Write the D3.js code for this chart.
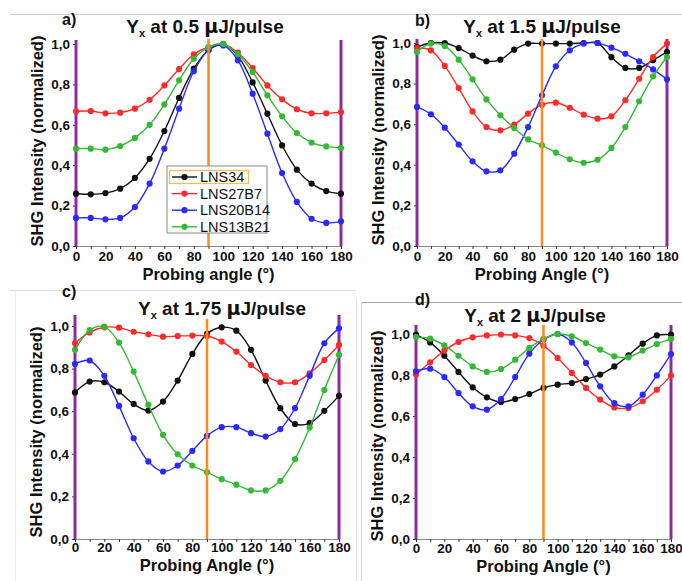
<!DOCTYPE html>
<html><head><meta charset="utf-8">
<script src="https://cdn.jsdelivr.net/npm/d3@7/dist/d3.min.js"></script>
<style>
html,body{margin:0;padding:0;background:#fff;}
svg{display:block;font-family:"Liberation Sans",Arial,sans-serif;}
</style></head>
<body>
<svg id="chart" width="682" height="581"></svg>
<script>
// ---- data ----
const angles = [0,10,20,30,40,50,60,70,80,90,100,110,120,130,140,150,160,170,180];
const seriesNames = ["LNS34","LNS27B7","LNS20B14","LNS13B21"];
const seriesColors = ["#111111","#ff2a2a","#2a2aff","#35b935"];
const xTickLabels = [0,20,40,60,80,100,120,140,160,180];
const yTickLabels = ["0,0","0,2","0,4","0,6","0,8","1,0"];

const panelA_LNS34   = [0.259,0.256,0.262,0.284,0.337,0.432,0.569,0.733,0.878,0.970,1.000,0.940,0.810,0.655,0.498,0.378,0.309,0.272,0.259];
const panelA_LNS27B7 = [0.667,0.668,0.657,0.660,0.680,0.724,0.795,0.876,0.949,0.985,1.000,0.957,0.881,0.795,0.726,0.677,0.657,0.657,0.663];
const panelA_LNS20B14= [0.139,0.139,0.132,0.139,0.193,0.309,0.482,0.680,0.865,0.969,0.993,0.919,0.754,0.556,0.361,0.218,0.135,0.114,0.122];
const panelA_LNS13B21= [0.482,0.482,0.477,0.495,0.535,0.600,0.701,0.820,0.927,0.985,1.000,0.949,0.861,0.746,0.642,0.559,0.512,0.493,0.485];

const panelB_LNS34   = [0.980,1.000,1.000,0.975,0.938,0.910,0.918,0.967,0.997,0.997,0.997,0.997,1.000,1.000,0.930,0.877,0.877,0.915,0.956];
const panelB_LNS27B7 = [0.975,0.964,0.887,0.778,0.663,0.586,0.570,0.598,0.652,0.696,0.706,0.681,0.647,0.627,0.639,0.718,0.824,0.931,0.997];
const panelB_LNS20B14= [0.685,0.649,0.583,0.500,0.417,0.368,0.373,0.455,0.586,0.742,0.885,0.964,0.997,1.000,0.977,0.947,0.910,0.870,0.821];
const panelB_LNS13B21= [0.956,0.997,0.985,0.918,0.821,0.722,0.644,0.581,0.525,0.496,0.460,0.427,0.410,0.425,0.483,0.586,0.713,0.836,0.931];

const panelC_LNS34   = [0.688,0.739,0.736,0.692,0.634,0.603,0.645,0.744,0.869,0.963,0.994,0.978,0.888,0.744,0.614,0.540,0.544,0.602,0.672];
const panelC_LNS27B7 = [0.919,0.970,0.994,0.992,0.973,0.961,0.950,0.953,0.955,0.953,0.927,0.880,0.817,0.766,0.736,0.736,0.778,0.840,0.911];
const panelC_LNS20B14= [0.822,0.838,0.766,0.625,0.473,0.364,0.317,0.345,0.414,0.484,0.525,0.525,0.497,0.481,0.516,0.614,0.767,0.919,0.989];
const panelC_LNS13B21= [0.888,0.981,0.997,0.922,0.786,0.630,0.489,0.398,0.345,0.314,0.281,0.255,0.228,0.228,0.273,0.375,0.523,0.700,0.864];

const panelD_LNS34   = [0.997,0.959,0.894,0.815,0.740,0.691,0.668,0.683,0.707,0.737,0.753,0.761,0.780,0.802,0.842,0.896,0.953,0.993,0.997];
const panelD_LNS27B7 = [0.802,0.862,0.919,0.961,0.984,0.993,0.997,0.993,0.980,0.943,0.883,0.810,0.737,0.680,0.642,0.639,0.672,0.728,0.797];
const panelD_LNS20B14= [0.818,0.831,0.790,0.712,0.647,0.631,0.683,0.790,0.904,0.972,1.000,0.959,0.859,0.745,0.663,0.647,0.704,0.798,0.902];
const panelD_LNS13B21= [0.985,0.977,0.945,0.894,0.842,0.815,0.829,0.875,0.932,0.976,1.000,0.989,0.956,0.924,0.891,0.886,0.919,0.951,0.976];

const panelTitles = ["at 0.5 ","at 1.5 ","at 1.75 ","at 2 "];
const panelLetters = ["a)","b)","c)","d)"];
const xAxisTitles = ["Probing angle (°)","Probing Angle (°)","Probing Angle (°)","Probing Angle (°)"];

// ---- layout ----
const svg = d3.select("#chart");

// frame lines (document artefacts)
svg.append("line").attr("x1",10).attr("x2",682).attr("y1",14.5).attr("y2",14.5).attr("stroke","#cfcfcf");
svg.append("line").attr("x1",10).attr("x2",356).attr("y1",290.5).attr("y2",290.5).attr("stroke","#e2e2e2");
svg.append("line").attr("x1",15.5).attr("x2",15.5).attr("y1",290).attr("y2",581).attr("stroke","#ececec");
svg.append("line").attr("x1",356.5).attr("x2",356.5).attr("y1",298).attr("y2",581).attr("stroke","#e0e0e0");
svg.append("line").attr("x1",361.5).attr("x2",682).attr("y1",302.5).attr("y2",302.5).attr("stroke","#a8a8a8");
svg.append("line").attr("x1",361.5).attr("x2",361.5).attr("y1",302).attr("y2",581).attr("stroke","#d0d0d0");

const panels = [
  {x0:76, x1:341, y0:246, y1:44, top:40, oTop:39, data:[panelA_LNS34,panelA_LNS27B7,panelA_LNS20B14,panelA_LNS13B21],
   title:{x:205,y:33}, letter:{x:62,y:25}, xt:34, yt:141, ty:3, legend:true},
  {x0:417, x1:667, y0:246, y1:43, top:39, oTop:39, data:[panelB_LNS34,panelB_LNS27B7,panelB_LNS20B14,panelB_LNS13B21],
   title:{x:542,y:33}, letter:{x:415,y:26}, xt:34, yt:140, ty:3},
  {x0:75, x1:339, y0:539, y1:326, top:315, oTop:319, data:[panelC_LNS34,panelC_LNS27B7,panelC_LNS20B14,panelC_LNS13B21],
   title:{x:222,y:315}, letter:{x:62,y:297}, xt:32, yt:432, ty:1},
  {x0:416, x1:671, y0:539, y1:334, top:325, oTop:325, data:[panelD_LNS34,panelD_LNS27B7,panelD_LNS20B14,panelD_LNS13B21],
   title:{x:535,y:322}, letter:{x:415,y:305}, xt:33, yt:436, ty:2}
];

panels.forEach((p,pi)=>{
  const g = svg.append("g");
  const x = d3.scaleLinear().domain([0,180]).range([p.x0,p.x1]);
  const y = d3.scaleLinear().domain([0,1]).range([p.y0,p.y1]);

  // x axis
  const xa = g.append("g").attr("transform",`translate(0,${p.y0})`)
    .call(d3.axisBottom(x).tickValues(d3.range(0,181,10)).tickSize(3)
      .tickFormat(d => xTickLabels.includes(d) ? d : ""));
  xa.select(".domain").attr("stroke","#8a8a8a");
  xa.selectAll(".tick line").attr("stroke","#333");
  xa.selectAll("text").attr("font-size",13.5).attr("font-weight","bold").attr("fill","#111").attr("dy","0.9em").attr("y",p.ty);

  // y axis
  const ya = g.append("g").attr("transform",`translate(${p.x0},0)`)
    .call(d3.axisLeft(y).tickValues([0,0.2,0.4,0.6,0.8,1.0]).tickSize(3)
      .tickFormat((d,i)=>yTickLabels[i]));
  ya.select(".domain").remove();
  ya.selectAll(".tick line").attr("stroke","#333");
  ya.selectAll("text").attr("font-size",13.5).attr("font-weight","bold").attr("fill","#111").attr("x",-6);

  // purple boundary lines
  [0,180].forEach(v=>{
    g.append("line").attr("x1",x(v)).attr("x2",x(v)).attr("y1",p.top).attr("y2",p.y0)
      .attr("stroke","#8e2a9e").attr("stroke-width",3);
  });

  // series
  const line = d3.line().x((d,i)=>x(angles[i])).y(d=>y(d)).curve(d3.curveCatmullRom.alpha(0.5));
  p.data.forEach((arr,si)=>{
    g.append("path").attr("d",line(arr)).attr("fill","none")
      .attr("stroke",seriesColors[si]).attr("stroke-width",1.4);
    g.selectAll(null).data(arr).enter().append("circle")
      .attr("cx",(d,i)=>x(angles[i])).attr("cy",d=>y(d)).attr("r",3.1)
      .attr("fill",seriesColors[si]);
  });

  // orange 90° line
  g.append("line").attr("x1",x(90)).attr("x2",x(90)).attr("y1",p.oTop).attr("y2",p.y0)
    .attr("stroke","#ff8a1c").attr("stroke-width",2.5);

  // title
  const t = g.append("text").attr("x",p.title.x).attr("y",p.title.y).attr("text-anchor","middle")
    .attr("font-size",19).attr("font-weight","bold").attr("fill","#111");
  t.append("tspan").text("Y");
  t.append("tspan").attr("font-size",11).attr("dy",4).text("x");
  t.append("tspan").attr("dy",-4).text(" " + panelTitles[pi]);
  t.append("tspan").attr("font-family","'DejaVu Sans',sans-serif").text("\u00b5");
  t.append("tspan").text("J/pulse");

  // panel letter
  g.append("text").attr("x",p.letter.x).attr("y",p.letter.y).attr("font-size",16)
    .attr("font-weight","bold").attr("fill","#111").text(panelLetters[pi]);

  // axis titles
  g.append("text").attr("x",(p.x0+p.x1)/2).attr("y",p.y0+p.xt).attr("text-anchor","middle")
    .attr("font-size",16.5).attr("font-weight","bold").attr("fill","#111").text(xAxisTitles[pi]);
  g.append("text").attr("transform",`translate(${p.x0-33},${p.yt}) rotate(-90)`).attr("text-anchor","middle")
    .attr("font-size",16.5).attr("font-weight","bold").attr("fill","#111").text("SHG Intensity (normalized)");

  // legend
  if(p.legend){
    const lg = g.append("g");
    lg.append("rect").attr("x",167).attr("y",166).attr("width",100).attr("height",67)
      .attr("fill","#fff").attr("stroke","#8a8a8a").attr("stroke-width",1);
    lg.append("rect").attr("x",169.5).attr("y",170.5).attr("width",79).attr("height",13)
      .attr("fill","none").attr("stroke","#f2c04a").attr("stroke-width",1.2);
    seriesNames.forEach((nm,si)=>{
      const yy = 177 + si*16.6;
      lg.append("line").attr("x1",172).attr("x2",197).attr("y1",yy).attr("y2",yy)
        .attr("stroke",seriesColors[si]).attr("stroke-width",1.4);
      lg.append("circle").attr("cx",184.5).attr("cy",yy).attr("r",3.1).attr("fill",seriesColors[si]);
      lg.append("text").attr("x",200).attr("y",yy+5).attr("font-size",14.5).attr("fill","#111").text(nm);
    });
  }
});
</script>
</body></html>
